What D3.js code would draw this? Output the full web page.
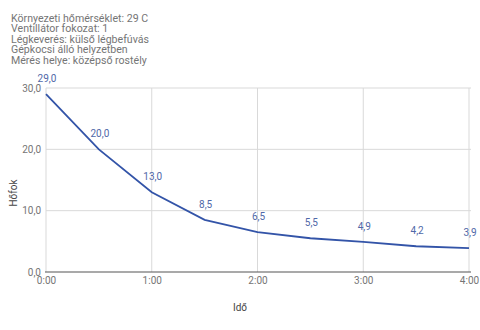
<!DOCTYPE html>
<html>
<head>
<meta charset="utf-8">
<script src="https://cdn.jsdelivr.net/npm/d3@7"></script>
<style>
  html, body { margin: 0; padding: 0; background: #fff; }
  svg { display: block; font-family: Roboto, "Noto Sans", sans-serif; }
</style>
</head>
<body>
<svg id="chart" width="480" height="330"></svg>
<script>
// Measurement notes shown above the chart
const notes = [
  "Környezeti hőmérséklet: 29 C",
  "Ventillátor fokozat: 1",
  "Légkeverés: külső légbefúvás",
  "Gépkocsi álló helyzetben",
  "Mérés helye: középső rostély"
];
// Elapsed time in minutes and measured temperature
const minutes = [0, 30, 60, 90, 120, 150, 180, 210, 240];
const temps = [29.0, 20.0, 13.0, 8.5, 6.5, 5.5, 4.9, 4.2, 3.9];
const xTickMinutes = [0, 60, 120, 180, 240];
const yTicks = [0, 10, 20, 30];
const xTitle = "Idő";
const yTitle = "Hőfok";

const svg = d3.select("#chart");
const plot = { left: 46, right: 469, top: 88, bottom: 272 };

const x = d3.scaleLinear().domain([0, 240]).range([plot.left, plot.right]);
const y = d3.scaleLinear().domain([0, 30]).range([plot.bottom, plot.top]);

const fmtNum = v => v.toFixed(1).replace(".", ",");
const fmtTime = m => Math.floor(m / 60) + ":" + String(m % 60).padStart(2, "0");

// Notes block
svg.append("g").selectAll("text").data(notes).join("text")
  .attr("x", 11).attr("y", (d, i) => 22 + i * 10.4)
  .attr("font-size", 10.6).attr("fill", "#757575")
  .text(d => d);

// Gridlines
svg.append("g").selectAll("line").data(yTicks.filter(t => t > 0)).join("line")
  .attr("x1", plot.left).attr("x2", plot.right + 2)
  .attr("y1", d => y(d)).attr("y2", d => y(d))
  .attr("stroke", "#d9d9d9").attr("stroke-width", 1);
svg.append("g").selectAll("line").data(xTickMinutes.filter(t => t > 0)).join("line")
  .attr("x1", d => x(d)).attr("x2", d => x(d))
  .attr("y1", plot.top).attr("y2", plot.bottom)
  .attr("stroke", "#d9d9d9").attr("stroke-width", 1);
svg.append("line")
  .attr("x1", plot.left).attr("x2", plot.left).attr("y1", plot.top).attr("y2", plot.bottom)
  .attr("stroke", "#d9d9d9");

// Baseline
svg.append("line")
  .attr("x1", plot.left - 1).attr("x2", plot.right + 2).attr("y1", plot.bottom).attr("y2", plot.bottom)
  .attr("stroke", "#555").attr("stroke-width", 1.2);

// Axes tick labels
const yAxis = d3.axisLeft(y).tickValues(yTicks).tickFormat(fmtNum).tickSize(0).tickPadding(5);
svg.append("g").attr("transform", `translate(${plot.left},0)`).call(yAxis)
  .call(g => g.select(".domain").remove())
  .call(g => g.selectAll("text").attr("fill", "#757575").attr("font-size", 10)
    .attr("font-family", "Roboto, sans-serif"));

const xAxis = d3.axisBottom(x).tickValues(xTickMinutes).tickFormat(fmtTime).tickSize(0).tickPadding(5);
svg.append("g").attr("transform", `translate(0,${plot.bottom})`).call(xAxis)
  .call(g => g.select(".domain").remove())
  .call(g => g.selectAll("text").attr("fill", "#757575").attr("font-size", 10)
    .attr("font-family", "Roboto, sans-serif"));

// Axis titles
svg.append("text").attr("x", 240).attr("y", 311).attr("text-anchor", "middle")
  .attr("font-size", 10).attr("fill", "#444").text(xTitle);
svg.append("text").attr("transform", "translate(17,193) rotate(-90)")
  .attr("text-anchor", "middle").attr("font-size", 10).attr("fill", "#444").text(yTitle);

// Temperature line
const pts = minutes.map((m, i) => [m, temps[i]]);
svg.append("path").datum(pts)
  .attr("fill", "none").attr("stroke", "#3354a8").attr("stroke-width", 1.8)
  .attr("d", d3.line().x(d => x(d[0])).y(d => y(d[1])));

// Value labels
svg.append("g").selectAll("text").data(pts).join("text")
  .attr("x", d => x(d[0]) + 1).attr("y", d => y(d[1]) - 12)
  .attr("text-anchor", "middle").attr("font-size", 10).attr("fill", "#5068a8")
  .text(d => fmtNum(d[1]));
</script>
</body>
</html>
